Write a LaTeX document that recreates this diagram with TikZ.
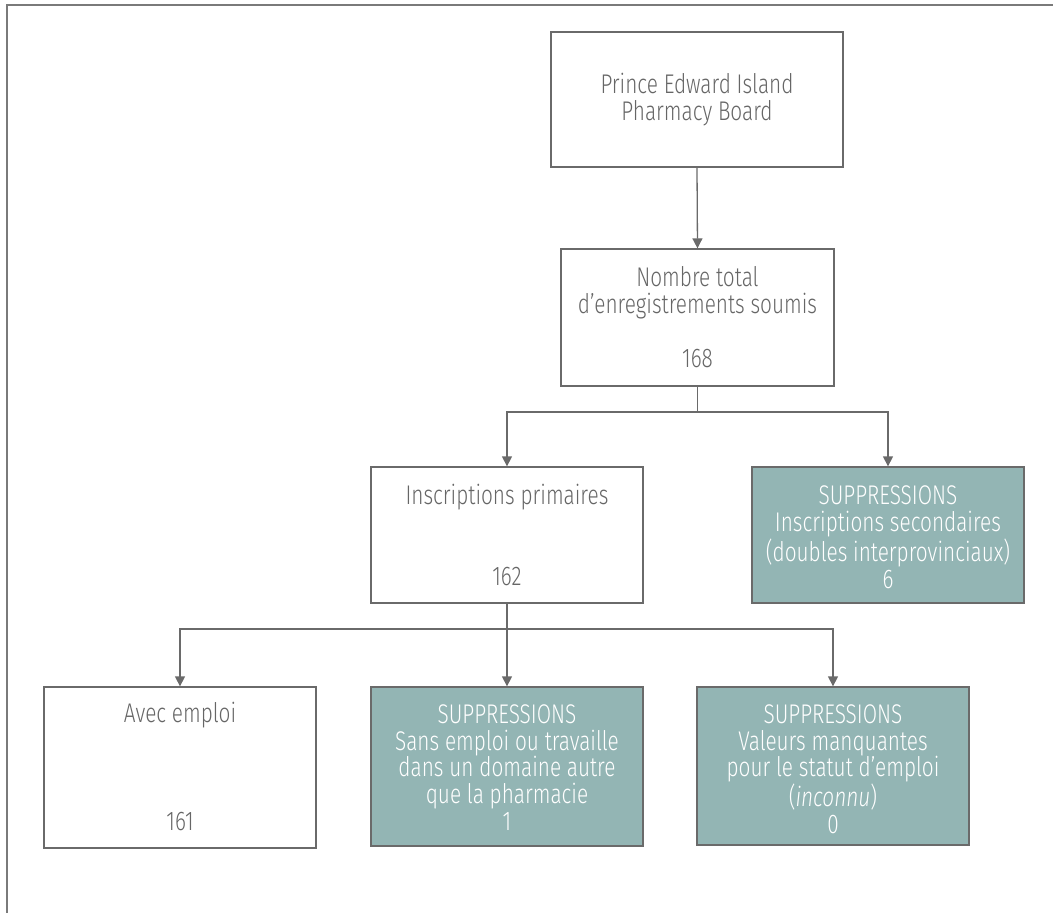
\documentclass[tikz,border=0pt]{standalone}
\usepackage{fontspec}
\setmainfont{Fira Sans Light}[FakeStretch=0.77, ItalicFont={Fira Sans Light Italic}, ItalicFeatures={FakeStretch=0.77}]
\usetikzlibrary{arrows.meta}
\definecolor{linegray}{HTML}{6A6A6A}
\definecolor{textgray}{HTML}{666666}
\definecolor{framegray}{HTML}{7A7A7A}
\definecolor{supfill}{HTML}{93B5B4}
\tikzset{
  box/.style={draw=linegray, line width=1.3pt, inner sep=0pt, rectangle},
  supbox/.style={box, fill=supfill},
  txt/.style={font=\fontsize{27}{27}\selectfont, text=textgray, align=center, inner sep=0pt, anchor=north},
  suptxt/.style={txt, text=white},
  conn/.style={draw=linegray, line width=1.3pt},
  arr/.style={conn, -{Triangle[length=10pt,width=10pt]}}
}
\begin{document}
\begin{tikzpicture}[x=1pt,y=-1pt]
\useasboundingbox (0,0) rectangle (1053,913);
% frame
\coordinate (fa) at (1053,5);
\coordinate (fb) at (7,5);
\coordinate (fc) at (7,913);
\draw[draw=framegray, line width=1.3pt] (fa) -- (fb) -- (fc);
% boxes
\node[box, minimum width=292pt, minimum height=135pt] (b1) at (697,99.5) {};
\node[box, minimum width=273pt, minimum height=137pt] (b2) at (697.5,317.5) {};
\node[box, minimum width=272pt, minimum height=136pt] (b3) at (507,535) {};
\node[supbox, minimum width=272pt, minimum height=136pt] (b4) at (888,535) {};
\node[box, minimum width=272pt, minimum height=161pt] (b5) at (180,767.5) {};
\node[supbox, minimum width=272pt, minimum height=159pt] (b6) at (507,766.5) {};
\node[supbox, minimum width=272pt, minimum height=158pt] (b7) at (833,766) {};
% texts
\node[txt] (t1) at (697,73) {Prince Edward Island\\Pharmacy Board};
\node[txt] (t2) at (697.5,266) {Nombre total\\d’enregistrements soumis\\[27pt]168};
\node[txt] (t3) at (507,484) {Inscriptions primaires\\[54pt]162};
\node[suptxt] (t4) at (888,486) {SUPPRESSIONS\\Inscriptions secondaires\\(doubles interprovinciaux)\\6};
\node[txt] (t5) at (180,702) {Avec emploi\\[81pt]161};
\node[suptxt] (t6) at (507,704) {SUPPRESSIONS\\Sans emploi ou travaille\\dans un domaine autre\\que la pharmacie\\1};
\node[suptxt] (t7) at (833,704) {SUPPRESSIONS\\Valeurs manquantes\\pour le statut d’emploi\\(\textit{inconnu})\\0};
% connectors
\coordinate (j1) at (697.5,412);
\coordinate (j2) at (507,629);
\draw[arr] (b1.south) -- (b2.north);
\draw[conn] (b2.south) -- (j1);
\draw[arr] (j1) -| (b3.north);
\draw[arr] (j1) -| (b4.north);
\draw[conn] (b3.south) -- (j2);
\draw[arr] (j2) -| (b5.north);
\draw[arr] (j2) -- (b6.north);
\draw[arr] (j2) -| (b7.north);
\end{tikzpicture}
\end{document}
